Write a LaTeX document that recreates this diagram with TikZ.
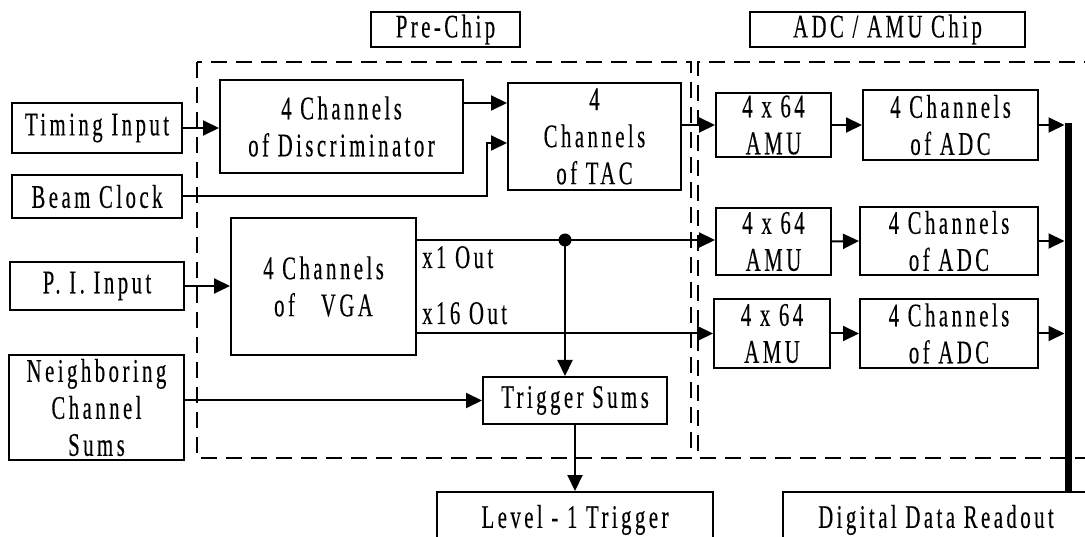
\documentclass[tikz,border=0pt]{standalone}
\usepackage{fontspec}
\setmainfont{Liberation Serif}[FakeStretch=0.63,LetterSpace=10.5,FakeBold=0.25]
\usetikzlibrary{arrows.meta}
\begin{document}
\begin{tikzpicture}[x=1pt,y=-1pt,
  box/.style={draw,line width=2pt,inner sep=0pt,align=center,font=\fontsize{33}{37}\selectfont},
  lbl/.style={inner sep=0pt,font=\fontsize{33}{37}\selectfont},
  arr/.style={line width=2pt,-{Triangle[length=16pt,width=15pt]}},
  ln/.style={line width=2pt},
  bus/.style={line width=7pt},
  dbox/.style={line width=2.2pt,dash pattern=on 16pt off 9pt}]
\useasboundingbox (0,0) rectangle (1085,537);
\fill[white] (0,0) rectangle (1085,537);
% chip areas
\draw[dbox] (197,62) rectangle (691,458);
\draw[dbox] (1100,62) -- (698,62) -- (698,458) -- (1100,458);
% labels
\node[box,minimum width=149pt,minimum height=35pt] (prelbl) at (445.5,29.5) {Pre-Chip};
\node[box,minimum width=275pt,minimum height=35pt] (adclbl) at (887.5,29.5) {ADC / AMU Chip};
% inputs
\node[box,minimum width=170pt,minimum height=50pt] (timing) at (97,128) {Timing Input};
\node[box,minimum width=170pt,minimum height=43pt] (beam) at (97,196.5) {Beam Clock};
\node[box,minimum width=174pt,minimum height=48pt] (pi) at (97,286) {P. I. Input};
\node[box,minimum width=175pt,minimum height=105pt] (neigh) at (96.5,407.5) {Neighboring\\Channel\\Sums};
% pre-chip
\node[box,minimum width=243pt,minimum height=93pt] (disc) at (341.5,126.5) {4 Channels\\of Discriminator};
\node[box,minimum width=173pt,minimum height=107pt] (tac) at (594.5,136.5) {4\\Channels\\of TAC};
\node[box,minimum width=185pt,minimum height=137pt] (vga) at (323.5,286.5) {4 Channels\\of~~~VGA};
\node[box,minimum width=184pt,minimum height=47pt] (trig) at (575,400.5) {Trigger Sums};
% adc/amu chip
\node[box,minimum width=115pt,minimum height=64pt] (amu1) at (773.5,125) {4 x 64\\AMU};
\node[box,minimum width=175pt,minimum height=70pt] (adc1) at (950.5,125) {4 Channels\\of ADC};
\node[box,minimum width=115pt,minimum height=67pt] (amu2) at (773.5,241.5) {4 x 64\\AMU};
\node[box,minimum width=178pt,minimum height=68pt] (adc2) at (949,241) {4 Channels\\of ADC};
\node[box,minimum width=116pt,minimum height=69pt] (amu3) at (772,333.5) {4 x 64\\AMU};
\node[box,minimum width=178pt,minimum height=69pt] (adc3) at (949,333.5) {4 Channels\\of ADC};
% outputs
\node[box,minimum width=276pt,minimum height=56pt] (lvl) at (575,520) {Level - 1 Trigger};
\node[box,minimum width=306pt,minimum height=56pt] (ddr) at (936,520) {Digital Data Readout};
% helper coordinates
\coordinate (r103) at (0,103);
\coordinate (bend) at (487,143);
\coordinate (junc) at (565,240);
\coordinate (bustop) at (1068,123);
\coordinate (busbot) at (1068,492);
% connectors
\draw[arr] (timing.east) -- (timing.east -| disc.west);
\draw[arr] (disc.east |- r103) -- (tac.west |- r103);
\draw[arr] (beam.east) -| (bend) -- (bend -| tac.west);
\draw[arr] (tac.east |- amu1.west) -- (amu1.west);
\draw[arr] (pi.east) -- (pi.east -| vga.west);
\draw[arr] (vga.east |- junc) -- (junc -| amu2.west);
\draw[arr] (vga.east |- amu3.west) -- (amu3.west);
\fill (junc) circle (6.5pt);
\draw[arr] (junc) -- (junc |- trig.north);
\draw[arr] (neigh.east |- trig.west) -- (trig.west);
\draw[arr] (trig.south) -- (lvl.north);
\draw[arr] (amu1.east) -- (adc1.west);
\draw[arr] (amu2.east) -- (adc2.west);
\draw[arr] (amu3.east) -- (adc3.west);
\draw[bus] (bustop) -- (busbot);
\draw[arr,shorten >=3.5pt] (adc1.east) -- (adc1.east -| bustop);
\draw[arr,shorten >=3.5pt] (adc2.east) -- (adc2.east -| bustop);
\draw[arr,shorten >=3.5pt] (adc3.east) -- (adc3.east -| bustop);
% output labels
\node[lbl,anchor=base west] (x1) at (422,268) {x1 Out};
\node[lbl,anchor=base west] (x16) at (422,324) {x16 Out};
\end{tikzpicture}
\end{document}
